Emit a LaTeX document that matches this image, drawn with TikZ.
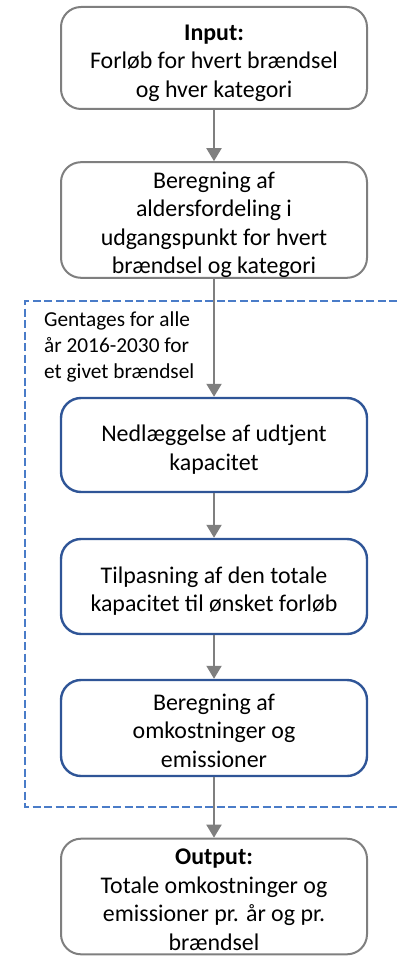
\documentclass[tikz,border=0pt]{standalone}
\usepackage{fontspec}
\setmainfont{Carlito}
\usepackage{tikz}
\usetikzlibrary{arrows.meta, positioning}
\definecolor{mGrey}{HTML}{7F7F7F}
\definecolor{mDarkBlue}{HTML}{2F5597}
\definecolor{mLoopBlue}{HTML}{4A7CC8}
% box text with a little room above the first line
\newcommand{\boxtext}[1]{\rule{0pt}{26pt}#1\vphantom{g}}

\begin{document}
\begin{tikzpicture}[
    x=1pt, y=-1pt,
    box/.style={rectangle, draw=mGrey, line width=2pt, fill=white, rounded corners=20pt, align=center, minimum width=306pt, inner sep=0pt, font=\fontsize{23.9}{28.5}\selectfont},
    procbox/.style={box, draw=mDarkBlue, line width=2.4pt},
    arrow/.style={line width=2pt, mGrey, -{Triangle[width=15pt,length=13pt]}},
    loop/.style={line width=2pt, mLoopBlue, dash pattern=on 8pt off 3.5pt}
]
    \useasboundingbox (0,0) rectangle (397,957);

    % loop over the years
    \draw[loop] (397,301) -- (25,301) -- (25,807) -- (397,807);
    \node[anchor=north west, align=left, inner sep=0pt, font=\fontsize{21.3}{26}\selectfont] (loopnote) at (44,312)
        {Gentages for alle\\år 2016-2030 for\\et givet brændsel};

    \node[box, minimum height=102pt] (in) at (214,58) {\boxtext{\textbf{Input:}\\Forløb for hvert brændsel\\og hver kategori}};
    \node[box, minimum height=112pt] (age) at (214,220) {\boxtext{Beregning af\\aldersfordeling i\\udgangspunkt for hvert\\brændsel og kategori}};
    \node[procbox, minimum height=94pt] (scrap) at (214,445) {\boxtext{Nedlæggelse af udtjent\\kapacitet}};
    \node[procbox, minimum height=95pt] (fit) at (214,586.5) {\boxtext{Tilpasning af den totale\\kapacitet til ønsket forløb}};
    \node[procbox, minimum height=96pt] (cost) at (214,728) {\boxtext{Beregning af\\omkostninger og\\emissioner}};
    \node[box, minimum height=115pt] (out) at (214,896.5) {\boxtext{\textbf{Output:}\\Totale omkostninger og\\emissioner pr. år og pr.\\brændsel}};

    \draw[arrow] (in) -- (age);
    \draw[arrow] (age) -- (scrap);
    \draw[arrow] (scrap) -- (fit);
    \draw[arrow] (fit) -- (cost);
    \draw[arrow] (cost) -- (out);
\end{tikzpicture}
\end{document}
